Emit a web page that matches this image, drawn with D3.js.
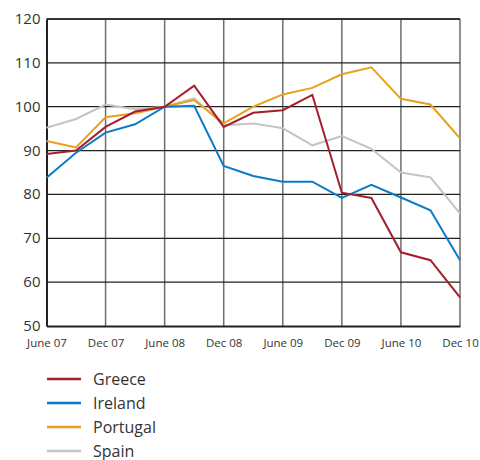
<!DOCTYPE html>
<html>
<head>
<meta charset="utf-8">
<script src="https://cdn.jsdelivr.net/npm/d3@7"></script>
<style>
  body { margin: 0; background: #fff; }
  text { font-family: "Open Sans", "Noto Sans", sans-serif; fill: #333; }
</style>
</head>
<body>
<svg id="chart"></svg>
<script>
const periods = ["June 07", "Sep 07", "Dec 07", "Mar 08", "June 08", "Sep 08", "Dec 08", "Mar 09",
                 "June 09", "Sep 09", "Dec 09", "Mar 10", "June 10", "Sep 10", "Dec 10"];
const tickLabels = ["June 07", "Dec 07", "June 08", "Dec 08", "June 09", "Dec 09", "June 10", "Dec 10"];
const yTicks = [50, 60, 70, 80, 90, 100, 110, 120];

const greece = [89.2, 90.0, 95.4, 98.9, 100, 104.8, 95.4, 98.6, 99.2, 102.7, 80.4, 79.2, 66.8, 65.0, 56.5];
const ireland = [83.8, 89.5, 94.1, 96.0, 100, 100.2, 86.5, 84.2, 82.9, 82.9, 79.2, 82.2, 79.3, 76.4, 65.0];
const portugal = [92.2, 90.7, 97.6, 98.5, 100, 101.5, 96.2, 100.0, 102.8, 104.3, 107.4, 109.0, 101.8, 100.5, 92.8];
const spain = [95.2, 97.2, 100.5, 99.4, 100, 101.9, 95.8, 96.2, 95.1, 91.2, 93.3, 90.4, 85.0, 83.9, 75.7];

const seriesNames = ["Greece", "Ireland", "Portugal", "Spain"];
const seriesColors = ["#a61e2c", "#0a7cc6", "#e9a01d", "#c3c3c3"];

function main() {
    const width = 480, height = 460;
    const left = 46.5, right = 460, top = 19, bottom = 326;

    const svg = d3.select("#chart").attr("width", width).attr("height", height);

    const x = d3.scalePoint().domain(periods).range([left, right]);
    const y = d3.scaleLinear().domain([50, 120]).range([bottom, top]);

    // vertical grid (gray)
    svg.append("g").selectAll("line")
        .data(tickLabels.slice(1))
        .join("line")
        .attr("x1", d => x(d)).attr("x2", d => x(d))
        .attr("y1", top).attr("y2", bottom)
        .attr("stroke", "#6e6e6e").attr("stroke-width", 1.5);

    // horizontal grid (black)
    svg.append("g").selectAll("line")
        .data(yTicks.slice(1))
        .join("line")
        .attr("x1", left).attr("x2", right)
        .attr("y1", d => y(d)).attr("y2", d => y(d))
        .attr("stroke", d => d === 120 ? "#333" : "#222")
        .attr("stroke-width", d => d === 120 ? 2 : 1.3);

    // left & bottom axes
    const yAxis = d3.axisLeft(y).tickValues(yTicks).tickSize(0).tickPadding(6);
    const gy = svg.append("g").attr("transform", "translate(" + left + ",0)").call(yAxis);
    gy.select(".domain").attr("stroke", "#222").attr("stroke-width", 2);
    gy.selectAll("text").style("font-size", "15px").attr("dy", "0.3em").attr("fill", "#333");

    const xAxis = d3.axisBottom(x).tickValues(tickLabels).tickSize(0).tickPadding(12.5);
    const gx = svg.append("g").attr("transform", "translate(0," + bottom + ")").call(xAxis);
    gx.select(".domain").attr("stroke", "#222").attr("stroke-width", 2);
    gx.selectAll("text").style("font-size", "11.5px").attr("fill", "#333");

    // data lines
    const allSeries = [greece, ireland, portugal, spain];
    const line = d3.line().x((d, i) => x(periods[i])).y(d => y(d));
    const drawOrder = [3, 2, 1, 0];
    svg.append("g").selectAll("path")
        .data(drawOrder)
        .join("path")
        .attr("d", k => line(allSeries[k]))
        .attr("fill", "none")
        .attr("stroke", k => seriesColors[k])
        .attr("stroke-width", 2)
        .attr("stroke-linejoin", "miter");

    // legend
    const legend = svg.append("g").attr("transform", "translate(47,379)");
    const item = legend.selectAll("g")
        .data(seriesNames)
        .join("g")
        .attr("transform", (d, i) => "translate(0," + (i * 24) + ")");
    item.append("line")
        .attr("x1", 0).attr("x2", 34)
        .attr("stroke", (d, i) => seriesColors[i])
        .attr("stroke-width", 2.5);
    item.append("text")
        .attr("x", 46).attr("y", 6)
        .style("font-size", "16px")
        .text(d => d);
}

main();
</script>
</body>
</html>
